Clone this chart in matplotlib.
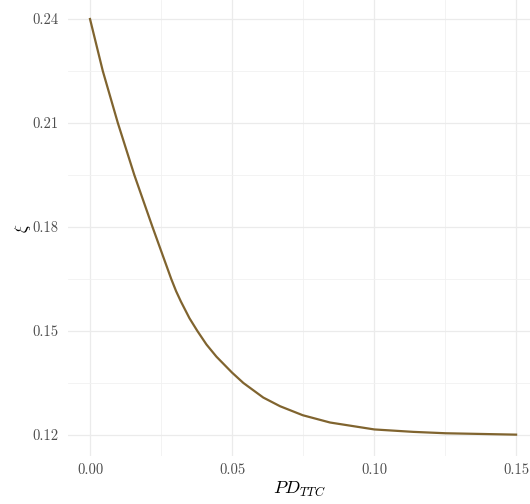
import numpy as np
import matplotlib
matplotlib.use('Agg')
import matplotlib.pyplot as plt
from matplotlib.ticker import MultipleLocator, FormatStrFormatter

# correlation xi against through-the-cycle PD
pd_ttc = [0.0000, 0.0045, 0.0098, 0.0156, 0.0220, 0.0286, 0.0303, 0.0320,
          0.0350, 0.0378, 0.0410, 0.0445, 0.0500, 0.0540, 0.0610, 0.0669,
          0.0749, 0.0845, 0.1001, 0.1138, 0.1252, 0.1500]
xi = [0.2400, 0.2250, 0.2100, 0.1950, 0.1800, 0.1650, 0.1615, 0.1585,
      0.1537, 0.1500, 0.1461, 0.1426, 0.1380, 0.1350, 0.1308, 0.1283,
      0.1257, 0.1236, 0.1216, 0.1209, 0.1205, 0.1201]

x_ticks = [0.00, 0.05, 0.10, 0.15]
y_ticks = [0.12, 0.15, 0.18, 0.21, 0.24]

plt.rcParams['font.family'] = 'cmr10'
plt.rcParams['mathtext.fontset'] = 'cm'
plt.rcParams['axes.formatter.use_mathtext'] = True

fig = plt.figure(figsize=(5.30, 5.04), dpi=100)
ax = fig.add_axes([68/530, 1 - 456/504, 1 - 68/530, 456/504])

ax.plot(pd_ttc, xi, color='#80642f', lw=1.6, solid_joinstyle='round', zorder=3)

ax.set_xlim(-0.00775, 0.1549)
ax.set_ylim(0.11394, 0.24548)
ax.set_xticks(x_ticks)
ax.set_yticks(y_ticks)
ax.xaxis.set_minor_locator(MultipleLocator(0.025))
ax.yaxis.set_minor_locator(MultipleLocator(0.015))
ax.xaxis.set_major_formatter(FormatStrFormatter('%.2f'))
ax.yaxis.set_major_formatter(FormatStrFormatter('%.2f'))

ax.grid(which='major', color='#ebebeb', lw=0.9)
ax.grid(which='minor', color='#f1f1f1', lw=0.6)
ax.set_axisbelow(True)
for s in ax.spines.values():
    s.set_visible(False)
ax.tick_params(which='both', length=0, labelsize=10.5, labelcolor='#4d4d4d')
ax.tick_params(axis='x', pad=5)
ax.tick_params(axis='y', pad=7)

ax.set_xlabel(r'$PD_{TTC}$', fontsize=13, labelpad=2)
ax.set_ylabel(r'$\xi$', fontsize=12, labelpad=-1)

fig.savefig('out.png', dpi=100)
